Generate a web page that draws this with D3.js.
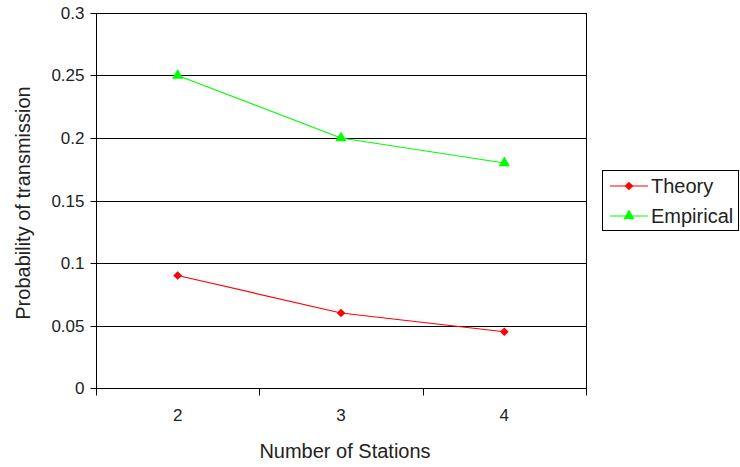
<!DOCTYPE html>
<html>
<head>
<meta charset="utf-8">
<script src="https://cdn.jsdelivr.net/npm/d3@7"></script>
<style>
  html, body { margin: 0; padding: 0; background: #fff; }
  svg { display: block; font-family: "Liberation Sans", Arial, sans-serif; }
</style>
</head>
<body>
<svg id="chart" width="740" height="467"></svg>
<script>
// Stations on the x axis
const stations = ["2", "3", "4"];
// Probability of transmission per series
const theory = [0.09, 0.06, 0.045];
const empirical = [0.25, 0.2, 0.18];
// Y axis ticks
const yTicks = [0, 0.05, 0.1, 0.15, 0.2, 0.25, 0.3];

const seriesNames = ["Theory", "Empirical"];
const seriesColors = ["#ff0000", "#00ff00"];

(function draw() {
  const svg = d3.select("#chart");
  const plotLeft = 96, plotRight = 586, plotTop = 13, plotBottom = 388;
  const textColor = "#222";
  const tickFont = 17, titleFont = 20;

  const x = d3.scaleBand().domain(stations).range([plotLeft, plotRight]);
  const y = d3.scaleLinear().domain([0, 0.3]).range([plotBottom, plotTop]);

  // Horizontal grid lines
  svg.append("g").selectAll("line").data(yTicks.slice(1)).join("line")
    .attr("x1", plotLeft).attr("x2", plotRight)
    .attr("y1", d => Math.round(y(d)) + 0.5).attr("y2", d => Math.round(y(d)) + 0.5)
    .attr("stroke", "#000").attr("stroke-width", 1);

  // Right border of the plot area
  svg.append("line")
    .attr("x1", plotRight + 0.5).attr("x2", plotRight + 0.5)
    .attr("y1", plotTop).attr("y2", plotBottom + 7)
    .attr("stroke", "#000");

  // Y axis
  const yAxis = d3.axisLeft(y).tickValues(yTicks).tickSize(6).tickPadding(6)
    .tickFormat(d => String(+d.toFixed(2)));
  const gy = svg.append("g").attr("transform", `translate(${plotLeft + 0.5},0)`).call(yAxis);
  gy.select(".domain").attr("d", `M0,${plotTop}V${plotBottom + 7}`).attr("stroke", "#000");
  gy.selectAll(".tick line").attr("stroke", "#000");
  gy.selectAll(".tick").attr("transform", d => `translate(0,${Math.round(y(d)) + 0.5})`);
  gy.selectAll("text").attr("font-size", tickFont).attr("fill", textColor)
    .attr("font-family", "Liberation Sans, Arial, sans-serif");

  // X axis: ticks at band boundaries, labels at band centres
  const gx = svg.append("g").attr("transform", `translate(0,${plotBottom + 0.5})`);
  gx.append("line").attr("x1", plotLeft).attr("x2", plotRight + 1).attr("stroke", "#000");
  const boundaries = stations.map(s => x(s)).concat([plotRight]);
  gx.selectAll("line.tk").data(boundaries).join("line").attr("class", "tk")
    .attr("x1", d => Math.round(d) + 0.5).attr("x2", d => Math.round(d) + 0.5)
    .attr("y1", 0).attr("y2", 7).attr("stroke", "#000");
  gx.selectAll("text").data(stations).join("text")
    .attr("x", d => x(d) + x.bandwidth() / 2).attr("y", 32)
    .attr("text-anchor", "middle").attr("font-size", tickFont).attr("fill", textColor)
    .text(d => d);

  // Axis titles
  svg.append("text").attr("x", 345).attr("y", 458)
    .attr("text-anchor", "middle").attr("font-size", titleFont).attr("fill", textColor)
    .text("Number of Stations");
  svg.append("text")
    .attr("transform", `translate(30,203) rotate(-90)`)
    .attr("text-anchor", "middle").attr("font-size", titleFont).attr("fill", textColor)
    .text("Probability of transmission");

  const cx = d => x(d) + x.bandwidth() / 2;
  const line = d3.line().x(d => cx(d[0])).y(d => y(d[1]));
  // Red markers are squares turned 45 degrees, green markers are triangles
  const symbols = [
    d3.symbol().type(d3.symbolSquare).size(38),
    d3.symbol().type(d3.symbolTriangle).size(55)
  ];
  const rotations = [45, 0];

  [theory, empirical].forEach((vals, i) => {
    const pts = stations.map((s, j) => [s, vals[j]]);
    svg.append("path").datum(pts).attr("d", line)
      .attr("fill", "none").attr("stroke", seriesColors[i]).attr("stroke-width", 1.2);
    svg.append("g").selectAll("path").data(pts).join("path")
      .attr("transform", d => `translate(${cx(d[0])},${y(d[1])}) rotate(${rotations[i]})`)
      .attr("d", symbols[i])
      .attr("fill", seriesColors[i]);
  });

  // Legend
  const lg = svg.append("g").attr("transform", "translate(602,170)");
  lg.append("rect").attr("x", 0.5).attr("y", 0.5).attr("width", 136).attr("height", 60)
    .attr("fill", "#fff").attr("stroke", "#000");
  seriesNames.forEach((name, i) => {
    const ly = 16 + i * 30;
    lg.append("line").attr("x1", 8).attr("x2", 46).attr("y1", ly).attr("y2", ly)
      .attr("stroke", seriesColors[i]).attr("stroke-width", 1.2);
    lg.append("path").attr("transform", `translate(27,${ly}) rotate(${rotations[i]})`)
      .attr("d", symbols[i])
      .attr("fill", seriesColors[i]);
    lg.append("text").attr("x", 49).attr("y", ly + 7).attr("font-size", titleFont)
      .attr("fill", textColor).text(name);
  });
})();
</script>
</body>
</html>
